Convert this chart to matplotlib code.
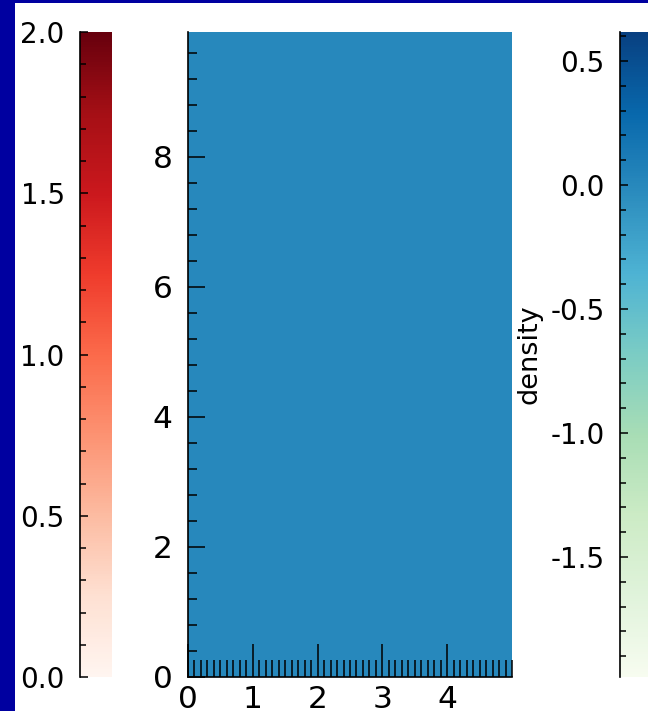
import numpy as np
import matplotlib
matplotlib.use("Agg")
import matplotlib.pyplot as plt
from matplotlib.colors import Normalize
from matplotlib.cm import ScalarMappable
from matplotlib.patches import Rectangle
from matplotlib.ticker import MultipleLocator

plt.rcParams['font.family'] = ['DejaVu Sans']
plt.rcParams['axes.unicode_minus'] = False

# data
x_edges = [0.0, 1.0, 2.0, 3.0, 4.0, 5.0]
y_edges = [0.0, 2.0, 4.0, 6.0, 8.0, 9.92]
density = [[0.0, 0.0, 0.0, 0.0, 0.0],
           [0.0, 0.0, 0.0, 0.0, 0.0],
           [0.0, 0.0, 0.0, 0.0, 0.0],
           [0.0, 0.0, 0.0, 0.0, 0.0],
           [0.0, 0.0, 0.0, 0.0, 0.0]]
density_range = (-1.984, 0.617)
red_range = (0.0, 2.0)
x_ticks = [0, 1, 2, 3, 4]
y_ticks = [0, 2, 4, 6, 8]
red_ticks = [0.0, 0.5, 1.0, 1.5, 2.0]
density_ticks = [-1.5, -1.0, -0.5, 0.0, 0.5]

W, H = 648, 711
fig = plt.figure(figsize=(W / 100, H / 100), dpi=100, facecolor='#0000a0')
fig.patches.append(Rectangle((15 / W, 0), 1 - 15 / W, 1 - 3 / H,
                             transform=fig.transFigure, facecolor='white',
                             edgecolor='none', zorder=-1))

bottom = 34 / H
height = 645 / H
ax = fig.add_axes([188 / W, bottom, 324 / W, height])
cax_l = fig.add_axes([80 / W, bottom, 32 / W, height])
cax_r = fig.add_axes([620 / W, bottom, 32 / W, height])

norm_d = Normalize(*density_range)
mesh = ax.pcolormesh(x_edges, y_edges, np.array(density), cmap='GnBu', norm=norm_d)
ax.set_xlim(x_edges[0], x_edges[-1])
ax.set_ylim(y_edges[0], y_edges[-1])
for s in ['top', 'right']:
    ax.spines[s].set_visible(False)
for s in ['left', 'bottom']:
    ax.spines[s].set_linewidth(1.2)
ax.set_xticks(x_ticks)
ax.set_yticks(y_ticks)
ax.xaxis.set_minor_locator(MultipleLocator(0.1))
ax.yaxis.set_minor_locator(MultipleLocator(0.4))
ax.tick_params(axis='x', which='major', direction='in', length=24, width=1.1,
               labelsize=22.5, pad=6)
ax.tick_params(axis='x', which='minor', direction='in', length=12, width=1.1)
ax.tick_params(axis='y', which='major', direction='in', length=12, width=1.1,
               labelsize=22.5, pad=11)
ax.tick_params(axis='y', which='minor', direction='in', length=6.5, width=1.1)

def style_cbar(cb, cax, ticks):
    cb.outline.set_visible(False)
    cax.spines['left'].set_visible(True)
    cax.spines['left'].set_linewidth(1.2)
    cax.yaxis.set_ticks_position('left')
    cax.yaxis.set_label_position('left')
    cb.set_ticks(ticks)
    cax.yaxis.set_minor_locator(MultipleLocator(0.1))
    cax.tick_params(which='major', direction='in', length=6, width=1.1,
                    labelsize=20, pad=11)
    cax.tick_params(which='minor', direction='in', length=4, width=1.1)

cb_l = fig.colorbar(ScalarMappable(norm=Normalize(*red_range), cmap='Reds'), cax=cax_l)
style_cbar(cb_l, cax_l, red_ticks)
cax_l.set_yticklabels([f"{t:.1f}" for t in red_ticks])

cb_r = fig.colorbar(mesh, cax=cax_r)
style_cbar(cb_r, cax_r, density_ticks)
cax_r.set_yticklabels([f"{t:.1f}" for t in density_ticks])
cb_r.set_label('density', fontsize=19.5, labelpad=6)

fig.savefig('out.png', dpi=100, facecolor=fig.get_facecolor())
